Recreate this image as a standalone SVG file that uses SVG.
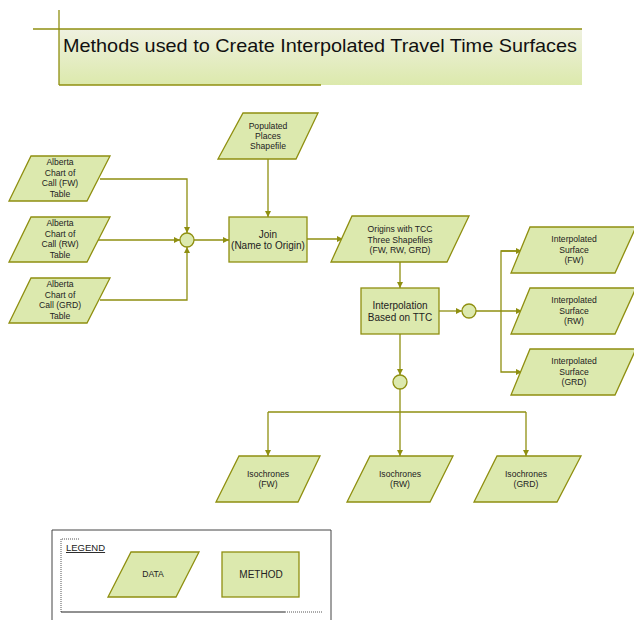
<svg xmlns="http://www.w3.org/2000/svg" width="634" height="620" viewBox="0 0 634 620">
<style>
.n{fill:#dce9ae;stroke:#8f8f10;stroke-width:1.3}
.c{fill:none;stroke:#8f8f10;stroke-width:1.3}
.t{font-family:"Liberation Sans",Arial,sans-serif;font-size:8.6px;fill:#222;text-anchor:middle}
.m{font-family:"Liberation Sans",Arial,sans-serif;font-size:10px;fill:#222;text-anchor:middle}
</style>
<defs>
<linearGradient id="tg" x1="0" y1="0" x2="0" y2="1">
<stop offset="0" stop-color="#eff1e0"/>
<stop offset="1" stop-color="#dce9ac"/>
</linearGradient>
<marker id="a" viewBox="0 0 10 10" refX="10" refY="5" markerWidth="6" markerHeight="6" orient="auto" markerUnits="userSpaceOnUse">
<path d="M0,0 L10,5 L0,10 z" fill="#8f8f10"/>
</marker>
</defs>
<g id="title">
<rect x="59" y="29" width="523" height="56" fill="url(#tg)"/>
<line x1="33" y1="29" x2="582" y2="29" stroke="#8f8f10" stroke-width="1.3"/>
<line x1="59" y1="10" x2="59" y2="85" stroke="#8f8f10" stroke-width="1.3"/>
<line x1="59" y1="85" x2="321" y2="85" stroke="#8f8f10" stroke-width="1.3"/>
<text x="63" y="52" font-family="Liberation Sans,Arial,sans-serif" font-size="18.5px" fill="#111" textLength="514" lengthAdjust="spacingAndGlyphs">Methods used to Create Interpolated Travel Time Surfaces</text>
</g>
<g id="connectors">
<polyline class="c" points="100,179 187,179 187,233" marker-end="url(#a)"/>
<polyline class="c" points="98,240 180,240" marker-end="url(#a)"/>
<polyline class="c" points="100,300 187,300 187,247" marker-end="url(#a)"/>
<polyline class="c" points="194,240 229,240" marker-end="url(#a)"/>
<polyline class="c" points="268,159 268,217" marker-end="url(#a)"/>
<polyline class="c" points="307,239 343,239" marker-end="url(#a)"/>
<polyline class="c" points="400,262 400,288" marker-end="url(#a)"/>
<polyline class="c" points="439,311 462,311" marker-end="url(#a)"/>
<polyline class="c" points="476,311 522,311" marker-end="url(#a)" stroke-width="2"/>
<polyline class="c" points="522,251 501,251 501,372 522,372" marker-end="url(#a)"/>
<line class="c" x1="501" y1="251" x2="522" y2="251" marker-end="url(#a)"/>
<polyline class="c" points="400,334 400,375" marker-end="url(#a)"/>
<polyline class="c" points="400,389 400,456" marker-end="url(#a)"/>
<polyline class="c" points="268,412 526,412"/>
<polyline class="c" points="268,412 268,456" marker-end="url(#a)"/>
<polyline class="c" points="526,412 526,456" marker-end="url(#a)"/>
</g>
<g id="alberta-fw">
<polygon class="n" points="31,156 110,156 87,201 9,201"/>
<text class="t" x="60" y="165">Alberta</text>
<text class="t" x="60" y="175.5">Chart of</text>
<text class="t" x="60" y="186">Call (FW)</text>
<text class="t" x="60" y="197">Table</text>
</g>
<g id="alberta-rw">
<polygon class="n" points="31,217 110,217 87,262 9,262"/>
<text class="t" x="60" y="226">Alberta</text>
<text class="t" x="60" y="236.5">Chart of</text>
<text class="t" x="60" y="247">Call (RW)</text>
<text class="t" x="60" y="258">Table</text>
</g>
<g id="alberta-grd">
<polygon class="n" points="31,278 110,278 87,323 9,323"/>
<text class="t" x="60" y="287">Alberta</text>
<text class="t" x="60" y="297.5">Chart of</text>
<text class="t" x="60" y="308">Call (GRD)</text>
<text class="t" x="60" y="319">Table</text>
</g>
<g id="merge1"><circle class="n" cx="187" cy="240" r="7"/></g>
<g id="populated">
<polygon class="n" points="243,113 318,113 296,159 218,159"/>
<text class="t" x="268" y="129">Populated</text>
<text class="t" x="268" y="139">Places</text>
<text class="t" x="268" y="149">Shapefile</text>
</g>
<g id="join">
<rect class="n" x="229" y="217" width="78" height="45"/>
<text class="m" x="268" y="237.5">Join</text>
<text class="m" x="268" y="249">(Name to Origin)</text>
</g>
<g id="origins">
<polygon class="n" points="352,216 469,216 447,262 331,262"/>
<text class="t" x="400" y="232">Origins with TCC</text>
<text class="t" x="400" y="242.5">Three Shapefiles</text>
<text class="t" x="400" y="253">(FW, RW, GRD)</text>
</g>
<g id="interpolation">
<rect class="n" x="361" y="288" width="78" height="46"/>
<text class="m" x="400" y="308.5">Interpolation</text>
<text class="m" x="400" y="320.5">Based on TTC</text>
</g>
<g id="merge2"><circle class="n" cx="469" cy="311" r="7"/></g>
<g id="surface-fw">
<polygon class="n" points="530,227 636,227 615,273 511,273"/>
<text class="t" x="574" y="242">Interpolated</text>
<text class="t" x="574" y="253">Surface</text>
<text class="t" x="574" y="263">(FW)</text>
</g>
<g id="surface-rw">
<polygon class="n" points="530,288 636,288 615,334 511,334"/>
<text class="t" x="574" y="303">Interpolated</text>
<text class="t" x="574" y="314">Surface</text>
<text class="t" x="574" y="324">(RW)</text>
</g>
<g id="surface-grd">
<polygon class="n" points="530,349 636,349 615,395 511,395"/>
<text class="t" x="574" y="364">Interpolated</text>
<text class="t" x="574" y="375">Surface</text>
<text class="t" x="574" y="385">(GRD)</text>
</g>
<g id="merge3"><circle class="n" cx="400" cy="382" r="7"/></g>
<g id="iso-fw">
<polygon class="n" points="239,456 320,456 298,502 216,502"/>
<text class="t" x="268" y="477">Isochrones</text>
<text class="t" x="268" y="487">(FW)</text>
</g>
<g id="iso-rw">
<polygon class="n" points="370,456 453,456 430,502 347,502"/>
<text class="t" x="400" y="477">Isochrones</text>
<text class="t" x="400" y="487">(RW)</text>
</g>
<g id="iso-grd">
<polygon class="n" points="497,456 581,456 557,502 474,502"/>
<text class="t" x="526" y="477">Isochrones</text>
<text class="t" x="526" y="487">(GRD)</text>
</g>
<g id="legend">
<polyline points="52,621 52,530 331,530 331,621" fill="none" stroke="#444" stroke-width="1"/>
<polyline points="79,539 61,539 61,612" fill="none" stroke="#555" stroke-width="1" stroke-dasharray="1,1"/>
<line x1="61" y1="612" x2="285" y2="612" stroke="#222" stroke-width="1"/>
<line x1="285" y1="612" x2="322" y2="612" stroke="#555" stroke-width="1" stroke-dasharray="1,1"/>
<text x="66" y="551" font-family="Liberation Sans,Arial,sans-serif" font-size="9.5px" fill="#222" text-decoration="underline">LEGEND</text>
<polygon class="n" points="131,552 199,552 176,597 108,597"/>
<text class="t" x="153" y="577">DATA</text>
<rect class="n" x="222" y="552" width="77" height="45"/>
<text class="m" x="261" y="577.5">METHOD</text>
</g>
</svg>
